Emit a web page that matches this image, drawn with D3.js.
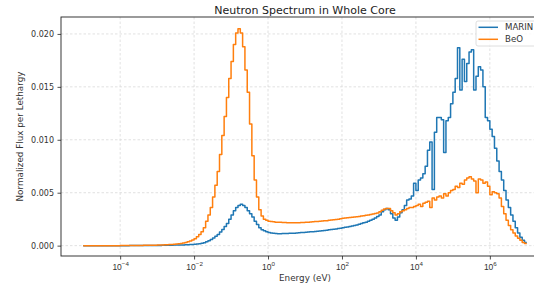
<!DOCTYPE html>
<html>
<head>
<meta charset="utf-8">
<script src="https://cdn.jsdelivr.net/npm/d3@7"></script>
<style>
  body { margin: 0; background: #fff; }
  svg { display: block; font-family: "DejaVu Sans", sans-serif; }
</style>
</head>
<body>
<div id="chart"></div>
<script>
//Energy groups: 16 equal-lethargy groups per decade, starting at 1e-5 eV
var groupsPerDecade = 16;
var lowestEnergy = 1e-5;

//Normalized flux per lethargy, one value per group
var marinFlux = [
  0,0,0,0,0,0,0,0,0,0,0,0,0,0,0,0,
  0,0,0,0,0.00001,0.00001,0.00001,0.00001,0.00001,0.00001,0.00001,0.00001,0.00001,0.00001,0.00001,0.00001,
  0.00002,0.00002,0.00003,0.00003,0.00003,0.00004,0.00004,0.00005,0.00005,0.00006,0.00006,0.00007,0.00008,0.00009,0.0001,0.00011,
  0.00012,0.00015,0.00018,0.00022,0.00028,0.00036,0.00045,0.00058,0.00072,0.00088,0.00106,0.00128,0.00152,0.0018,0.0021,0.0025,
  0.0029,0.0033,0.0036,0.0038,0.0039,0.0038,0.0036,0.0033,0.003,0.0027,0.0023,0.002,0.0017,0.0015,0.0014,0.0013,
  0.00125,0.0012,0.00116,0.00114,0.00113,0.00113,0.00114,0.00114,0.00115,0.00116,0.00117,0.00118,0.0012,0.00121,0.00123,0.00124,
  0.00126,0.00128,0.0013,0.00132,0.00134,0.00136,0.00138,0.0014,0.00143,0.00146,0.00149,0.00152,0.00155,0.00158,0.00161,0.00165,
  0.00169,0.00173,0.00177,0.00181,0.00186,0.00191,0.00196,0.00202,0.00208,0.00215,0.00222,0.0023,0.00239,0.00249,0.0026,0.00275,
  0.0029,0.0032,0.0034,0.0035,0.0034,0.003,0.0026,0.0024,0.0027,0.0031,0.0034,0.0038,0.0043,0.0044,0.0047,0.0059,
  0.0052,0.0062,0.0064,0.0068,0.0075,0.009,0.0098,0.0053,0.0107,0.0121,0.0121,0.0119,0.0088,0.0118,0.0121,0.0134,
  0.0145,0.0158,0.0187,0.0147,0.0176,0.0155,0.0172,0.0183,0.0185,0.0147,0.016,0.0169,0.0166,0.015,0.0121,0.0118,
  0.011,0.0103,0.0092,0.008,0.007,0.0062,0.0052,0.0043,0.0036,0.0029,0.0023,0.0017,0.0012,0.0008,0.0005,0.0003
];

var beoFlux = [
  0,0,0,0,0,0,0,0,0,0,0,0,0,0,0,0,
  0.00001,0.00001,0.00001,0.00001,0.00001,0.00002,0.00002,0.00002,0.00002,0.00002,0.00003,0.00003,0.00003,0.00003,0.00004,0.00004,
  0.00005,0.00006,0.00007,0.00008,0.00009,0.0001,0.00011,0.00013,0.00015,0.00018,0.00021,0.00025,0.0003,0.00036,0.00043,0.00052,
  0.00066,0.00083,0.00105,0.0013,0.0017,0.0023,0.0029,0.0036,0.0046,0.0057,0.007,0.0086,0.0104,0.0122,0.014,0.0158,
  0.0174,0.019,0.0201,0.0205,0.0201,0.0188,0.0166,0.0145,0.0115,0.0085,0.0062,0.0046,0.0034,0.0028,0.0025,0.0024,
  0.0023,0.00228,0.00225,0.00222,0.0022,0.0022,0.00218,0.00218,0.00216,0.00216,0.00215,0.00216,0.00216,0.00217,0.00218,0.00219,
  0.0022,0.00222,0.00223,0.00226,0.00227,0.00229,0.0023,0.00233,0.00235,0.00236,0.0024,0.00242,0.00244,0.00248,0.0025,0.00255,
  0.00258,0.0026,0.00263,0.00265,0.00268,0.0027,0.00273,0.00276,0.00279,0.00283,0.00287,0.0029,0.00294,0.00298,0.00303,0.00308,
  0.0032,0.00335,0.00345,0.0035,0.0035,0.0033,0.0031,0.0029,0.003,0.0032,0.0033,0.0034,0.0035,0.0036,0.0036,0.0037,
  0.0038,0.0039,0.0037,0.004,0.0041,0.0042,0.0036,0.0045,0.0043,0.0046,0.0047,0.0045,0.0049,0.0047,0.005,0.0052,
  0.0053,0.0056,0.0055,0.0059,0.0058,0.0062,0.0064,0.0065,0.0063,0.0061,0.005,0.0063,0.0062,0.0059,0.006,0.0056,
  0.0048,0.0051,0.005,0.0049,0.0045,0.0037,0.003,0.0024,0.0019,0.0015,0.0012,0.0009,0.0007,0.0005,0.0003,0.0002
];

var seriesNames = ['MARIN', 'BeO'];
var seriesColors = ['#1f77b4', '#ff7f0e'];
var xTickExps = [-4, -2, 0, 2, 4, 6];
var yTicks = [0, 0.005, 0.010, 0.015, 0.020];

//Chart Settings
var settings = {
  width: 534,
  height: 286,
  margin: {top: 17, right: -15, bottom: 30, left: 61},  //right edge of the axes sits outside the picture
  tickFont: 8,
  labelFont: 8.8
};

var plotLeft = settings.margin.left;
var plotRight = settings.width - settings.margin.right;
var plotTop = settings.margin.top;
var plotBottom = settings.height - settings.margin.bottom;

var svg = d3.select('#chart')
  .append('svg')
  .attr('width', settings.width)
  .attr('height', settings.height);

//Scales (matplotlib style 5% margins)
var x = d3.scaleLog()
  .domain([Math.pow(10, -5.6), Math.pow(10, 7.6)])
  .range([plotLeft, plotRight]);
var y = d3.scaleLinear()
  .domain([-0.00098, 0.0216])
  .range([plotBottom, plotTop]);

//Clip for the plot area
svg.append('clipPath').attr('id', 'plotClip')
  .append('rect')
  .attr('x', plotLeft).attr('y', plotTop)
  .attr('width', plotRight - plotLeft).attr('height', plotBottom - plotTop);

//Grid
var grid = svg.append('g').attr('class', 'grid');
grid.selectAll('line.vx')
  .data(xTickExps)
  .join('line')
    .attr('class', 'vx')
    .attr('x1', d => x(Math.pow(10, d))).attr('x2', d => x(Math.pow(10, d)))
    .attr('y1', plotTop).attr('y2', plotBottom);
grid.selectAll('line.hy')
  .data(yTicks)
  .join('line')
    .attr('class', 'hy')
    .attr('x1', plotLeft).attr('x2', plotRight)
    .attr('y1', d => y(d)).attr('y2', d => y(d));
grid.selectAll('line')
  .attr('stroke', '#d9d9d9')
  .attr('stroke-width', 0.8)
  .attr('stroke-dasharray', '2.5,2');

//Step lines, one point per group lower edge plus the top edge of the last group
function stepPoints(values) {
  var pts = values.map((v, i) => ({e: lowestEnergy * Math.pow(10, i / groupsPerDecade), v: v}));
  pts.push({e: lowestEnergy * Math.pow(10, values.length / groupsPerDecade), v: values[values.length - 1]});
  return pts;
}

var line = d3.line()
  .x(d => x(d.e))
  .y(d => y(d.v))
  .curve(d3.curveStepAfter);

var lines = svg.append('g').attr('clip-path', 'url(#plotClip)');
[marinFlux, beoFlux].forEach((vals, i) => {
  lines.append('path')
    .datum(stepPoints(vals))
    .attr('fill', 'none')
    .attr('stroke', seriesColors[i])
    .attr('stroke-width', 1.5)
    .attr('stroke-linejoin', 'round')
    .attr('d', line);
});

//X Axis
var xAxis = svg.append('g')
  .attr('transform', 'translate(0,' + plotBottom + ')')
  .call(d3.axisBottom(x).tickValues(xTickExps.map(e => Math.pow(10, e))).tickSize(3.5).tickFormat(''));
xAxis.select('.domain').remove();
xAxis.selectAll('.tick line').attr('stroke', '#222').attr('stroke-width', 0.8);
xAxis.selectAll('.tick')
  .append('text')
    .attr('y', 13.5)
    .attr('fill', '#333')
    .attr('text-anchor', 'middle')
    .style('font-size', '8.5px')
    .each(function(d) {
      var t = d3.select(this);
      var ex = Math.round(Math.log10(d));
      t.append('tspan').text('10');
      t.append('tspan')
        .attr('dy', -3.6)
        .style('font-size', '6.2px')
        .text(ex < 0 ? '\u2212' + (-ex) : String(ex));
    });

//Y Axis
var yAxis = svg.append('g')
  .attr('transform', 'translate(' + plotLeft + ',0)')
  .call(d3.axisLeft(y).tickValues(yTicks).tickSize(3.5).tickPadding(3.5).tickFormat(d3.format('.3f')));
yAxis.select('.domain').remove();
yAxis.selectAll('.tick line').attr('stroke', '#222').attr('stroke-width', 0.8);
yAxis.selectAll('.tick text')
  .attr('fill', '#333')
  .style('font-family', '"DejaVu Sans", sans-serif')
  .style('font-size', settings.tickFont + 'px');

//Axes frame
svg.append('rect')
  .attr('x', plotLeft).attr('y', plotTop)
  .attr('width', plotRight - plotLeft).attr('height', plotBottom - plotTop)
  .attr('fill', 'none')
  .attr('stroke', '#222')
  .attr('stroke-width', 0.9);

//Title and axis labels
var midX = (plotLeft + plotRight) / 2;
svg.append('text')
  .attr('x', midX).attr('y', 14)
  .attr('text-anchor', 'middle')
  .attr('fill', '#222')
  .style('font-size', '11px')
  .text('Neutron Spectrum in Whole Core');

svg.append('text')
  .attr('x', midX).attr('y', 280.5)
  .attr('text-anchor', 'middle')
  .attr('fill', '#333')
  .style('font-size', settings.labelFont + 'px')
  .text('Energy (eV)');

svg.append('text')
  .attr('transform', 'translate(23,' + ((plotTop + plotBottom) / 2) + ') rotate(-90)')
  .attr('text-anchor', 'middle')
  .attr('fill', '#333')
  .style('font-size', settings.labelFont + 'px')
  .text('Normalized Flux per Lethargy');

//Legend (upper right of the axes)
var legend = svg.append('g').attr('transform', 'translate(476,21)');
legend.append('rect')
  .attr('width', 69).attr('height', 25)
  .attr('rx', 2)
  .attr('fill', 'rgba(255,255,255,0.8)')
  .attr('stroke', '#d6d6d6')
  .attr('stroke-width', 0.8);
var entry = legend.selectAll('g.entry')
  .data(seriesNames)
  .join('g')
    .attr('class', 'entry')
    .attr('transform', (d, i) => 'translate(0,' + (6.3 + i * 12) + ')');
entry.append('line')
  .attr('x1', 2.5).attr('x2', 22)
  .attr('stroke', (d, i) => seriesColors[i])
  .attr('stroke-width', 1.5);
entry.append('text')
  .attr('x', 29).attr('y', 3)
  .attr('fill', '#333')
  .style('font-size', '8.6px')
  .text(d => d);
</script>
</body>
</html>
